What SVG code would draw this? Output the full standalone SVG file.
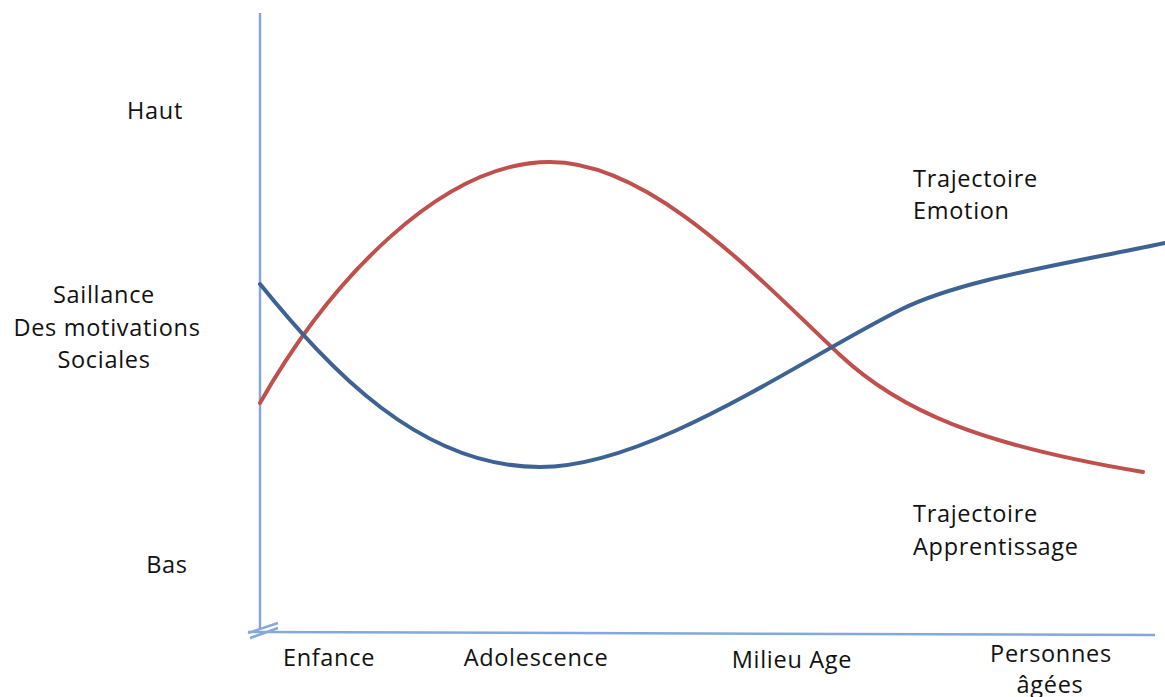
<svg xmlns="http://www.w3.org/2000/svg" width="1165" height="697" viewBox="0 0 1165 697">
<style>
.t{font-family:"Open Sans","Liberation Sans",sans-serif;font-size:23.5px;letter-spacing:0.7px;fill:#111}
.m{text-anchor:middle}
.ax{stroke:#86A8D8;stroke-width:2.5;fill:none}
.c{fill:none;stroke-width:4;stroke-linecap:round}
</style>
<rect width="1165" height="697" fill="#fff"/>
<g id="axes">
<line class="ax" x1="260" y1="13" x2="260" y2="628"/>
<line class="ax" x1="248" y1="632" x2="1155" y2="635"/>
<line class="ax" x1="248" y1="633" x2="278" y2="623"/>
<line class="ax" x1="250" y1="638" x2="278" y2="628"/>
</g>
<g id="connectors">
<path id="emotion-curve" class="c" stroke="#C0504D" d="M260,403 C330,280 442,162 550,162 C652,162 760,280 840,355 C900,411 980,445 1143,472"/>
<path id="learning-curve" class="c" stroke="#3D6293" d="M260,284 C330,370 420,467 540,467 C650,467 800,360 900,310 C960,280 1060,265 1165,243"/>
</g>
<g id="y-labels">
<text class="t m" x="155" y="119">Haut</text>
<text class="t m" x="104" y="303">Saillance</text>
<text class="t m" x="107" y="336">Des motivations</text>
<text class="t m" x="104" y="368">Sociales</text>
<text class="t m" x="167" y="573">Bas</text>
</g>
<g id="x-labels">
<text class="t m" x="329" y="666">Enfance</text>
<text class="t m" x="536" y="666">Adolescence</text>
<text class="t m" x="792" y="668">Milieu Age</text>
<text class="t m" x="1051" y="662">Personnes</text>
<text class="t m" x="1050" y="693">âgées</text>
</g>
<g id="label-emotion">
<text class="t" x="913" y="187">Trajectoire</text>
<text class="t" x="913" y="219">Emotion</text>
</g>
<g id="label-learning">
<text class="t" x="913" y="522">Trajectoire</text>
<text class="t" x="913" y="555">Apprentissage</text>
</g>
</svg>
